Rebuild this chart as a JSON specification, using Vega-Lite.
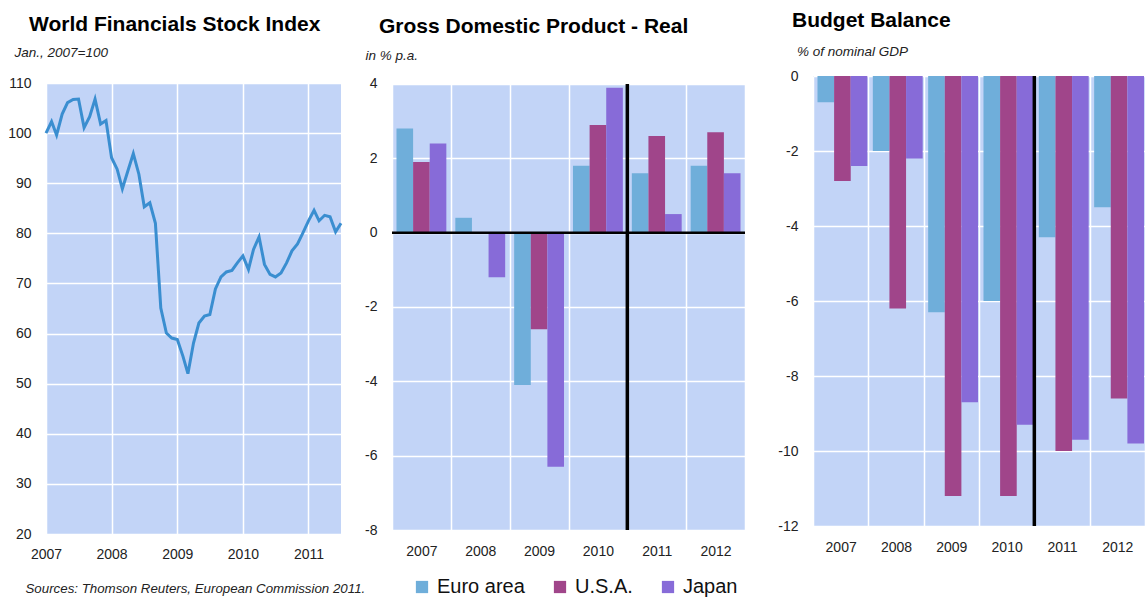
{
  "$schema": "https://vega.github.io/schema/vega-lite/v6.json",
  "padding": {"left": 7, "top": 10, "right": 0, "bottom": 0},
  "background": "white",
  "config": {
    "font": "Liberation Sans",
    "view": {"fill": "#C2D4F7", "stroke": null},
    "axis": {"labelFont": "Liberation Sans", "labelFontSize": 14, "labelColor": "#222", "domain": false, "ticks": false, "gridColor": "white", "gridWidth": 1.5, "gridOpacity": 1, "labelPadding": 15, "labelFlush": false,
      "titleFont": "Liberation Sans", "titleFontStyle": "italic", "titleFontWeight": "normal", "titleColor": "#222", "titleFontSize": 13.5},
    "title": {"font": "Liberation Sans", "fontSize": 21, "fontWeight": "bold", "color": "#000", "anchor": "start", "frame": "group"}
  },
  "datasets": {
    "stock": [
      {"date": "2007/01/01", "index": 100}, {"date": "2007/02/01", "index": 102.3}, {"date": "2007/03/01", "index": 99.6}, {"date": "2007/04/01", "index": 103.8},
      {"date": "2007/05/01", "index": 106.1}, {"date": "2007/06/01", "index": 106.7}, {"date": "2007/07/01", "index": 106.8}, {"date": "2007/08/01", "index": 101.1},
      {"date": "2007/09/01", "index": 103.3}, {"date": "2007/10/01", "index": 106.8}, {"date": "2007/11/01", "index": 101.8}, {"date": "2007/12/01", "index": 102.5},
      {"date": "2008/01/01", "index": 95.1}, {"date": "2008/02/01", "index": 92.8}, {"date": "2008/03/01", "index": 88.9}, {"date": "2008/04/01", "index": 92.5},
      {"date": "2008/05/01", "index": 95.9}, {"date": "2008/06/01", "index": 91.8}, {"date": "2008/07/01", "index": 85.3}, {"date": "2008/08/01", "index": 86.1},
      {"date": "2008/09/01", "index": 82.0}, {"date": "2008/10/01", "index": 65.1}, {"date": "2008/11/01", "index": 60.1}, {"date": "2008/12/01", "index": 59.1},
      {"date": "2009/01/01", "index": 58.8}, {"date": "2009/02/01", "index": 55.5}, {"date": "2009/03/01", "index": 52.0}, {"date": "2009/04/01", "index": 58.1},
      {"date": "2009/05/01", "index": 62.1}, {"date": "2009/06/01", "index": 63.5}, {"date": "2009/07/01", "index": 63.8}, {"date": "2009/08/01", "index": 68.9},
      {"date": "2009/09/01", "index": 71.3}, {"date": "2009/10/01", "index": 72.3}, {"date": "2009/11/01", "index": 72.6}, {"date": "2009/12/01", "index": 74.1},
      {"date": "2010/01/01", "index": 75.5}, {"date": "2010/02/01", "index": 72.8}, {"date": "2010/03/01", "index": 76.8}, {"date": "2010/04/01", "index": 79.3},
      {"date": "2010/05/01", "index": 73.8}, {"date": "2010/06/01", "index": 71.8}, {"date": "2010/07/01", "index": 71.3}, {"date": "2010/08/01", "index": 72.1},
      {"date": "2010/09/01", "index": 74.1}, {"date": "2010/10/01", "index": 76.5}, {"date": "2010/11/01", "index": 77.9}, {"date": "2010/12/01", "index": 80.1},
      {"date": "2011/01/01", "index": 82.5}, {"date": "2011/02/01", "index": 84.6}, {"date": "2011/03/01", "index": 82.5}, {"date": "2011/04/01", "index": 83.6},
      {"date": "2011/05/01", "index": 83.3}, {"date": "2011/06/01", "index": 80.3}, {"date": "2011/07/01", "index": 82.0}
    ],
    "gdp": [
      {"year": "2007", "region": "Euro area", "value": 2.8}, {"year": "2007", "region": "U.S.A.", "value": 1.9}, {"year": "2007", "region": "Japan", "value": 2.4},
      {"year": "2008", "region": "Euro area", "value": 0.4}, {"year": "2008", "region": "U.S.A.", "value": 0.0}, {"year": "2008", "region": "Japan", "value": -1.2},
      {"year": "2009", "region": "Euro area", "value": -4.1}, {"year": "2009", "region": "U.S.A.", "value": -2.6}, {"year": "2009", "region": "Japan", "value": -6.3},
      {"year": "2010", "region": "Euro area", "value": 1.8}, {"year": "2010", "region": "U.S.A.", "value": 2.9}, {"year": "2010", "region": "Japan", "value": 3.9},
      {"year": "2011", "region": "Euro area", "value": 1.6}, {"year": "2011", "region": "U.S.A.", "value": 2.6}, {"year": "2011", "region": "Japan", "value": 0.5},
      {"year": "2012", "region": "Euro area", "value": 1.8}, {"year": "2012", "region": "U.S.A.", "value": 2.7}, {"year": "2012", "region": "Japan", "value": 1.6}
    ],
    "budget": [
      {"year": "2007", "region": "Euro area", "value": -0.7}, {"year": "2007", "region": "U.S.A.", "value": -2.8}, {"year": "2007", "region": "Japan", "value": -2.4},
      {"year": "2008", "region": "Euro area", "value": -2.0}, {"year": "2008", "region": "U.S.A.", "value": -6.2}, {"year": "2008", "region": "Japan", "value": -2.2},
      {"year": "2009", "region": "Euro area", "value": -6.3}, {"year": "2009", "region": "U.S.A.", "value": -11.2}, {"year": "2009", "region": "Japan", "value": -8.7},
      {"year": "2010", "region": "Euro area", "value": -6.0}, {"year": "2010", "region": "U.S.A.", "value": -11.2}, {"year": "2010", "region": "Japan", "value": -9.3},
      {"year": "2011", "region": "Euro area", "value": -4.3}, {"year": "2011", "region": "U.S.A.", "value": -10.0}, {"year": "2011", "region": "Japan", "value": -9.7},
      {"year": "2012", "region": "Euro area", "value": -3.5}, {"year": "2012", "region": "U.S.A.", "value": -8.6}, {"year": "2012", "region": "Japan", "value": -9.8}
    ],
    "one": [{}]
  },
  "spacing": -5,
  "hconcat": [
    {
      "width": 295, "height": 458,
      "title": {"text": "World Financials Stock Index", "dx": -17, "offset": 10},
      "layer": [
        {
          "data": {"name": "stock"},
          "mark": {"type": "line", "color": "#3A8ED0", "strokeWidth": 3},
          "encoding": {
            "x": {"field": "date", "type": "temporal",
              "axis": {"format": "%Y", "tickCount": {"interval": "year", "step": 1}, "grid": true, "labelPadding": 13,
                "title": "Sources: Thomson Reuters,  European Commission 2011.", "titleFontSize": 13.3, "titleAnchor": "start", "titleAlign": "left", "titleBaseline": "alphabetic", "titleX": -21, "titleY": 58}},
            "y": {"field": "index", "type": "quantitative", "scale": {"domain": [20, 111.4], "nice": false, "zero": false},
              "axis": {"values": [20, 30, 40, 50, 60, 70, 80, 90, 100, 110], "title": "Jan., 2007=100", "titleAngle": 0, "titleAlign": "left", "titleBaseline": "alphabetic", "titleX": -32, "titleY": -20}}
          }
        },
        {
          "data": {"name": "one"},
          "mark": {"type": "rect", "color": "white"},
          "encoding": {"y": {"datum": 110}, "y2": {"datum": 111.4}}
        }
      ]
    },
    {
      "spacing": 30,
      "resolve": {"legend": {"color": "independent"}},
      "hconcat": [
        {
          "width": 353, "height": 454,
          "title": {"text": "Gross Domestic Product - Real", "dx": -13, "offset": 11},
          "layer": [
            {
              "data": {"name": "gdp"},
              "mark": {"type": "bar"},
              "encoding": {
                "x": {"field": "year", "type": "nominal", "scale": {"paddingInner": 0, "paddingOuter": 0},
                  "axis": {"labelAngle": 0, "tickBand": "extent", "grid": true, "title": null, "labelPadding": 14}},
                "xOffset": {"field": "region", "type": "nominal", "sort": ["Euro area", "U.S.A.", "Japan"], "scale": {"paddingInner": 0, "paddingOuter": 0.27}},
                "y": {"field": "value", "type": "quantitative", "scale": {"domain": [-8, 4.215], "nice": false},
                  "axis": {"values": [-8, -6, -4, -2, 0, 2, 4], "labelExpr": "'' + datum.value", "title": "in % p.a.", "titleAngle": 0, "titleAlign": "left", "titleBaseline": "alphabetic", "titleX": -27, "titleY": -17}},
                "color": {"field": "region", "type": "nominal",
                  "scale": {"domain": ["Euro area", "U.S.A.", "Japan"], "range": ["#6FAEDA", "#A0458A", "#876BD8"]},
                  "legend": {"orient": "none", "legendX": 20, "legendY": 501, "direction": "horizontal", "title": null, "symbolType": "square", "symbolSize": 150, "symbolStrokeWidth": 0, "labelFontSize": 20, "labelFont": "Liberation Sans", "labelColor": "#111", "columnPadding": 25, "labelOffset": 5}}
              }
            },
            {
              "data": {"name": "one"},
              "mark": {"type": "rect", "color": "white"},
              "encoding": {"y": {"datum": 4}, "y2": {"datum": 4.215}}
            },
            {
              "data": {"name": "one"},
              "mark": {"type": "rule", "color": "black", "strokeWidth": 2.5},
              "encoding": {"y": {"datum": 0}}
            },
            {
              "data": {"name": "one"},
              "mark": {"type": "rule", "color": "black", "strokeWidth": 3.5},
              "encoding": {"x": {"datum": "2011", "type": "nominal", "bandPosition": 0}, "y": {"datum": -8}, "y2": {"datum": 4}}
            }
          ]
        },
        {
          "width": 332, "height": 450,
          "title": {"text": "Budget Balance", "dx": -21, "offset": 13},
          "layer": [
            {
              "data": {"name": "budget"},
              "mark": {"type": "bar"},
              "encoding": {
                "x": {"field": "year", "type": "nominal", "scale": {"paddingInner": 0, "paddingOuter": 0},
                  "axis": {"labelAngle": 0, "tickBand": "extent", "grid": true, "title": null, "labelPadding": 14}},
                "xOffset": {"field": "region", "type": "nominal", "sort": ["Euro area", "U.S.A.", "Japan"], "scale": {"paddingInner": 0, "paddingOuter": 0.27}},
                "y": {"field": "value", "type": "quantitative", "scale": {"domain": [-12, 0], "nice": false},
                  "axis": {"values": [-12, -10, -8, -6, -4, -2, 0], "labelExpr": "'' + datum.value", "title": "% of nominal GDP", "titleAngle": 0, "titleAlign": "left", "titleBaseline": "alphabetic", "titleX": -16.5, "titleY": -21}},
                "color": {"field": "region", "type": "nominal",
                  "scale": {"domain": ["Euro area", "U.S.A.", "Japan"], "range": ["#6FAEDA", "#A0458A", "#876BD8"]},
                  "legend": null}
              }
            },
            {
              "data": {"name": "one"},
              "mark": {"type": "rule", "color": "black", "strokeWidth": 3.5},
              "encoding": {"x": {"datum": "2011", "type": "nominal", "bandPosition": 0}}
            }
          ]
        }
      ]
    }
  ]
}
